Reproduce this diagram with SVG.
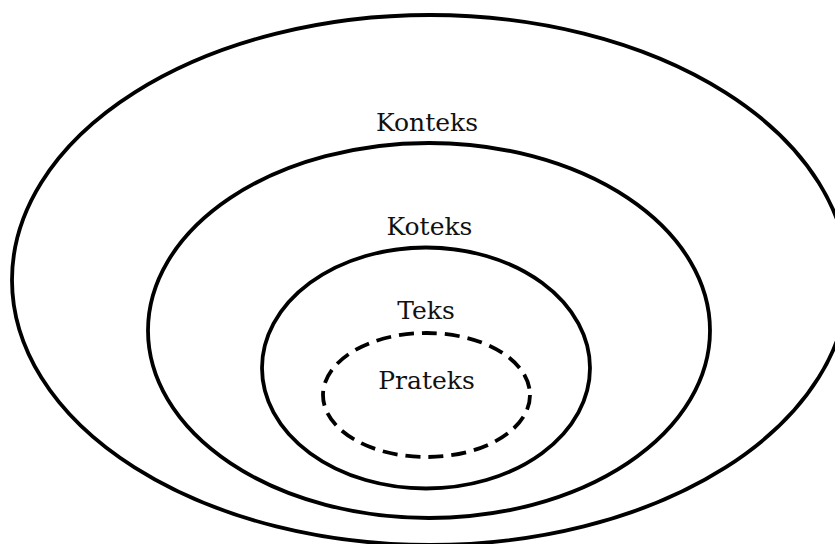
<svg xmlns="http://www.w3.org/2000/svg" width="835" height="544" viewBox="0 0 835 544">
  <style>
    .ring { fill: none; stroke: #000; stroke-width: 3.8; }
    .dashed { stroke-dasharray: 15 8; }
    .label { font-family: "DejaVu Serif", "Liberation Serif", serif; font-size: 25px; fill: #111; text-anchor: middle; }
  </style>
  <rect width="835" height="544" fill="#fff"/>
  <g id="konteks">
    <ellipse class="ring" cx="430" cy="280" rx="418" ry="265"/>
    <text class="label" x="427" y="131">Konteks</text>
  </g>
  <g id="koteks">
    <ellipse class="ring" cx="429" cy="330.5" rx="281" ry="187.5"/>
    <text class="label" x="429.5" y="235">Koteks</text>
  </g>
  <g id="teks">
    <ellipse class="ring" cx="426" cy="368" rx="164" ry="120.5"/>
    <text class="label" x="426" y="319">Teks</text>
  </g>
  <g id="prateks">
    <ellipse class="ring dashed" cx="426.5" cy="395" rx="103.5" ry="62"/>
    <text class="label" x="426.5" y="389">Prateks</text>
  </g>
  <g id="connectors"/>
</svg>
